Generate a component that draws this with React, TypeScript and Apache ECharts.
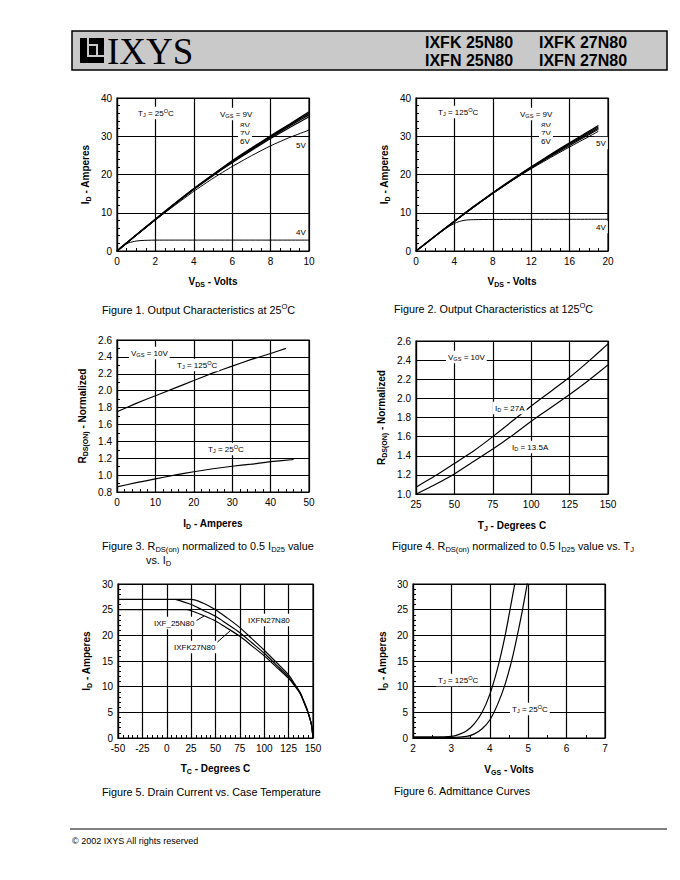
import React, { useEffect, useRef } from 'react';
import * as echarts from 'echarts';

const FONT = '"Liberation Sans", Arial, Helvetica, sans-serif';

// ---------- Figure 1: Output characteristics at 25C ----------
const f1Vds = [0, 0.5, 1, 2, 3, 4, 5, 6, 7, 8, 9, 10];
const f1Id9V = [0, 2.1, 4.2, 8.3, 12.4, 16.3, 20.0, 23.6, 26.9, 30.1, 33.2, 36.4];
const f1Id8V = [0, 2.1, 4.2, 8.3, 12.3, 16.2, 19.9, 23.4, 26.7, 29.9, 33.0, 36.0];
const f1Id7V = [0, 2.1, 4.2, 8.2, 12.3, 16.2, 19.8, 23.3, 26.5, 29.7, 32.7, 35.6];
const f1Id6V = [0, 2.1, 4.1, 8.2, 12.2, 16.1, 19.7, 23.1, 26.3, 29.4, 32.3, 35.1];
const f1Id5V = [0, 2.1, 4.1, 8.1, 11.9, 15.6, 19.0, 22.1, 24.9, 27.5, 29.7, 31.6];
const f1Vds4V = [0, 0.2, 0.4, 0.6, 0.8, 1, 1.3, 1.6, 2, 10];
const f1Id4V = [0, 0.9, 1.6, 2.1, 2.4, 2.6, 2.75, 2.8, 2.85, 2.85];

// ---------- Figure 2: Output characteristics at 125C ----------
const f2Vds = [0, 2, 4, 6, 8, 10, 12, 14, 16, 18, 19];
const f2Id9V = [0, 3.9, 7.8, 11.6, 15.2, 18.7, 22.0, 25.2, 28.3, 31.3, 32.8];
const f2Id8V = [0, 3.9, 7.8, 11.6, 15.2, 18.6, 21.9, 25.0, 28.1, 31.0, 32.5];
const f2Id7V = [0, 3.9, 7.8, 11.5, 15.1, 18.5, 21.8, 24.9, 27.9, 30.7, 32.1];
const f2Id6V = [0, 3.9, 7.8, 11.5, 15.1, 18.5, 21.7, 24.7, 27.6, 30.4, 31.8];
const f2Id5V = [0, 3.9, 7.7, 11.4, 15.0, 18.4, 21.5, 24.4, 27.2, 29.9, 31.3];
const f2Vds4V = [0, 1, 2, 3, 3.5, 4, 4.5, 5, 5.5, 6, 8, 20];
const f2Id4V = [0, 1.95, 3.9, 5.7, 6.5, 7.2, 7.7, 8.0, 8.15, 8.2, 8.25, 8.3];

// ---------- Figure 3: RDS(on) vs ID ----------
const f3Id125 = [0, 5, 10, 15, 20, 25, 30, 35, 40, 44];
const f3R125 = [1.75, 1.85, 1.94, 2.03, 2.12, 2.21, 2.29, 2.37, 2.44, 2.5];
const f3Id25 = [0, 5, 10, 15, 20, 25, 30, 35, 40, 46];
const f3R25 = [0.86, 0.91, 0.955, 1.0, 1.04, 1.075, 1.105, 1.13, 1.16, 1.185];

// ---------- Figure 4: RDS(on) vs TJ ----------
const f4Tj = [25, 37.5, 50, 62.5, 75, 87.5, 100, 112.5, 125, 137.5, 150];
const f4R27A = [1.07, 1.19, 1.32, 1.45, 1.6, 1.76, 1.92, 2.07, 2.22, 2.39, 2.57];
const f4R135A = [1.0, 1.1, 1.21, 1.34, 1.47, 1.61, 1.76, 1.9, 2.04, 2.19, 2.35];

// ---------- Figure 5: Drain current vs case temperature ----------
const f5TcFN27 = [-50, 15, 25, 37, 50, 62, 75, 87, 100, 112, 125, 131, 137, 141, 144, 146.5, 148.5, 150];
const f5IdFN27 = [27, 27, 27, 26.3, 25.0, 23.4, 21.5, 19.4, 17.1, 14.8, 12.3, 10.6, 8.8, 7.0, 5.5, 4.0, 2.5, 0];
const f5TcFK27 = [9, 25, 37, 50, 62, 75, 87, 100, 112, 125, 131, 137, 141, 144, 146.5, 148.5, 150];
const f5IdFK27 = [27, 26.0, 24.9, 23.7, 22.2, 20.5, 18.6, 16.5, 14.3, 11.9, 10.4, 8.7, 6.9, 5.5, 4.0, 2.5, 0];
const f5Tc25 = [-50, 10, 20, 25, 37, 50, 62, 75, 87, 100, 112, 125, 131, 137, 141, 144, 146.5, 148.5, 150];
const f5Id25 = [25, 25, 25, 24.8, 23.9, 22.8, 21.4, 19.8, 18.0, 16.0, 13.9, 11.6, 10.2, 8.6, 6.8, 5.4, 4.0, 2.5, 0];

// ---------- Figure 6: Admittance curves ----------
const f6Vgs125 = [2, 2.5, 3.0, 3.2, 3.4, 3.6, 3.8, 4.0, 4.2, 4.4, 4.6, 4.7];
const f6Id125 = [0.2, 0.2, 0.3, 0.7, 1.4, 2.8, 5.0, 8.5, 13.5, 20, 28, 32];
const f6Vgs25 = [2, 3.0, 3.4, 3.6, 3.8, 4.0, 4.2, 4.4, 4.6, 4.8, 4.95, 5.02];
const f6Id25 = [0.1, 0.1, 0.3, 0.8, 1.8, 3.5, 6.5, 10.5, 16, 23, 29, 32];

const zip = (xs: number[], ys: number[]) => xs.map((x, i) => [x, ys[i]]);

const nameRich = {
  s: { fontSize: 7, lineHeight: 7, verticalAlign: 'bottom', fontWeight: 'bold', fontFamily: FONT, color: '#000' },
};
const nameStyle = { color: '#000', fontSize: 10, fontWeight: 'bold', fontFamily: FONT, lineHeight: 13, rich: nameRich };

function axis(gi: number, min: number, max: number, interval: number, minor: number, name: string, gap: number, fmt?: (v: number) => string) {
  return {
    type: 'value', gridIndex: gi, min, max, interval, name, nameLocation: 'middle', nameGap: gap,
    nameTextStyle: nameStyle,
    axisLine: { show: true, onZero: false, lineStyle: { color: '#000', width: 1.2 } },
    axisTick: { show: true, inside: true, length: 4, lineStyle: { color: '#000', width: 1 } },
    minorTick: minor ? { show: true, splitNumber: minor, length: 3, lineStyle: { color: '#000', width: 1 } } : { show: false },
    splitLine: { show: true, lineStyle: { color: '#000', width: 1.2 } },
    axisLabel: { color: '#000', fontSize: 10, fontFamily: FONT, margin: 5, formatter: fmt },
  };
}

function line(gi: number, data: number[][], width = 1.1, smooth = 0.15) {
  return {
    type: 'line', xAxisIndex: gi, yAxisIndex: gi, data, symbol: 'none', showSymbol: false,
    smooth, silent: true,
    lineStyle: { color: '#000', width }, z: 3,
  };
}

function txt(x: number, y: number, text: string, size: number, extra: any = {}) {
  const sub = size * 0.7;
  return {
    type: 'text', x, y, z: 100,
    style: {
      text, fill: '#000', fontSize: size, fontFamily: FONT, lineHeight: size * 1.3,
      align: 'left', verticalAlign: 'middle',
      rich: {
        s: { fontSize: sub, lineHeight: sub, verticalAlign: 'bottom', fontFamily: FONT, fill: '#000' },
        p: { fontSize: sub, lineHeight: sub, verticalAlign: 'top', fontFamily: FONT, fill: '#000' },
      },
      ...extra,
    },
  };
}
const lbl = (x: number, y: number, text: string, size = 8) =>
  txt(x, y, text, size, { backgroundColor: '#fff', padding: [1, 2, 1, 2] });

const grid = (left: number, top: number, width: number, height: number) => ({
  left, top, width, height, show: true, borderColor: '#000', borderWidth: 1.2, backgroundColor: 'transparent',
});

const f1 = (v: number) => v.toFixed(1);
const HDR = { fill: '#000', fontSize: 16, fontWeight: 'bold', fontFamily: FONT, verticalAlign: 'middle', align: 'left' };

const option: any = {
  animation: false,
  backgroundColor: '#fff',
  textStyle: { fontFamily: FONT },
  grid: [
    grid(117, 98, 192, 153),
    grid(416, 98, 192, 153),
    grid(117, 340, 192, 152),
    grid(416, 341, 192, 153),
    grid(118, 584, 195, 154),
    grid(413, 584, 192, 154),
  ],
  xAxis: [
    axis(0, 0, 10, 2, 4, '{b|V}{s|DS}{b| - Volts}', 23.5),
    axis(1, 0, 20, 4, 4, '{b|V}{s|DS}{b| - Volts}', 23.5),
    axis(2, 0, 50, 10, 5, '{b|I}{s|D}{b| - Amperes}', 24.5),
    axis(3, 25, 150, 25, 0, '{b|T}{s|J}{b| - Degrees C}', 24.5),
    axis(4, -50, 150, 25, 5, '{b|T}{s|C}{b| - Degrees C}', 23.5),
    axis(5, 2, 7, 1, 2, '{b|V}{s|GS}{b| - Volts}', 24.5),
  ],
  yAxis: [
    axis(0, 0, 40, 10, 5, '{b|I}{s|D}{b| - Amperes}', 25.5),
    axis(1, 0, 40, 10, 5, '{b|I}{s|D}{b| - Amperes}', 25.5),
    axis(2, 0.8, 2.6, 0.2, 2, '{b|R}{s|DS(ON)}{b| - Normalized}', 28.5, f1),
    axis(3, 1.0, 2.6, 0.2, 0, '{b|R}{s|DS(ON)}{b| - Normalized}', 28.5, f1),
    axis(4, 0, 30, 5, 5, '{b|I}{s|D}{b| - Amperes}', 25.5),
    axis(5, 0, 30, 5, 5, '{b|I}{s|D}{b| - Amperes}', 24.5),
  ],
  series: [
    line(0, zip(f1Vds, f1Id9V), 1.4),
    line(0, zip(f1Vds, f1Id8V), 1.4),
    line(0, zip(f1Vds, f1Id7V), 1.4),
    line(0, zip(f1Vds, f1Id6V), 1.2),
    line(0, zip(f1Vds, f1Id5V), 1),
    line(0, zip(f1Vds4V, f1Id4V), 1, 0.3),
    line(1, zip(f2Vds, f2Id9V), 1.3),
    line(1, zip(f2Vds, f2Id8V), 1.3),
    line(1, zip(f2Vds, f2Id7V), 1.2),
    line(1, zip(f2Vds, f2Id6V), 1.1),
    line(1, zip(f2Vds, f2Id5V), 1),
    line(1, zip(f2Vds4V, f2Id4V), 1, 0.3),
    line(2, zip(f3Id125, f3R125), 1.2),
    line(2, zip(f3Id25, f3R25), 1.2),
    line(3, zip(f4Tj, f4R27A), 1.2),
    line(3, zip(f4Tj, f4R135A), 1.2),
    line(4, zip(f5TcFN27, f5IdFN27), 1.2, 0.3),
    line(4, zip(f5TcFK27, f5IdFK27), 1.2, 0.3),
    line(4, zip(f5Tc25, f5Id25), 1.2, 0.3),
    line(5, zip(f6Vgs125, f6Id125), 1.2, 0.3),
    line(5, zip(f6Vgs25, f6Id25), 1.2, 0.3),
  ],
  graphic: [
    // header
    { type: 'rect', z: 50, shape: { x: 72, y: 31, width: 595, height: 39 }, style: { fill: '#c9c9c9', stroke: '#000', lineWidth: 1.5 } },
    { type: 'rect', z: 51, shape: { x: 80, y: 38, width: 24, height: 25 }, style: { fill: '#000' } },
    { type: 'rect', z: 52, shape: { x: 87, y: 38, width: 2, height: 18 }, style: { fill: '#c9c9c9' } },
    { type: 'rect', z: 52, shape: { x: 87, y: 55, width: 17, height: 2 }, style: { fill: '#c9c9c9' } },
    { type: 'rect', z: 52, shape: { x: 89, y: 44, width: 9, height: 2 }, style: { fill: '#c9c9c9' } },
    { type: 'rect', z: 52, shape: { x: 96, y: 44, width: 2, height: 11 }, style: { fill: '#c9c9c9' } },
    { type: 'text', z: 52, x: 107, y: 51, style: { text: 'IXYS', fill: '#000', fontSize: 37, fontFamily: '"Liberation Serif", "Times New Roman", serif', verticalAlign: 'middle', align: 'left' } },
    { type: 'text', z: 52, x: 425, y: 42, style: { text: 'IXFK 25N80', ...HDR } },
    { type: 'text', z: 52, x: 539, y: 42, style: { text: 'IXFK 27N80', ...HDR } },
    { type: 'text', z: 52, x: 425, y: 60, style: { text: 'IXFN 25N80', ...HDR } },
    { type: 'text', z: 52, x: 539, y: 60, style: { text: 'IXFN 27N80', ...HDR } },

    // figure 1 annotations
    lbl(136, 113, 'T{s|J} = 25{p|O}C'),
    lbl(218, 114, 'V{s|GS} = 9V'),
    lbl(238, 125, '8V'),
    lbl(238, 133, '7V'),
    lbl(238, 141, '6V'),
    lbl(294, 145, '5V'),
    lbl(294, 232, '4V'),
    // figure 2 annotations
    lbl(436, 112, 'T{s|J} = 125{p|O}C'),
    lbl(518, 114, 'V{s|GS} = 9V'),
    lbl(539, 125, '8V'),
    lbl(539, 133, '7V'),
    lbl(539, 141, '6V'),
    lbl(594, 143, '5V'),
    lbl(594, 227, '4V'),
    // figure 3 annotations
    lbl(129, 353, 'V{s|GS} = 10V'),
    lbl(175, 365, 'T{s|J} = 125{p|O}C'),
    lbl(206, 449, 'T{s|J} = 25{p|O}C'),
    // figure 4 annotations
    lbl(446, 357, 'V{s|GS} = 10V'),
    lbl(493, 408, 'I{s|D} = 27A'),
    lbl(510, 447, 'I{s|D} = 13.5A'),
    // figure 5 annotations
    lbl(152, 623, 'IXF_25N80'),
    lbl(246, 620, 'IXFN27N80'),
    lbl(172, 647, 'IXFK27N80'),
    { type: 'line', z: 99, shape: { x1: 194, y1: 622, x2: 204, y2: 616 }, style: { stroke: '#000', lineWidth: 1 } },
    { type: 'line', z: 99, shape: { x1: 214, y1: 645, x2: 230, y2: 631 }, style: { stroke: '#000', lineWidth: 1 } },
    // figure 6 annotations
    lbl(436, 680, 'T{s|J} = 125{p|O}C'),
    lbl(510, 709, 'T{s|J} = 25{p|O}C'),

    // captions
    txt(102, 310, 'Figure 1. Output Characteristics at 25{p|O}C', 10.8),
    txt(394, 309, 'Figure 2. Output Characteristics at 125{p|O}C', 10.8),
    txt(102, 546, 'Figure 3. R{s|DS(on)} normalized to 0.5 I{s|D25} value', 10.8),
    txt(146, 560, 'vs. I{s|D}', 10.8),
    txt(392, 546, 'Figure 4. R{s|DS(on)} normalized to 0.5 I{s|D25} value vs. T{s|J}', 10.8),
    txt(102, 792, 'Figure 5. Drain Current vs. Case Temperature', 10.8),
    txt(394, 791, 'Figure 6. Admittance Curves', 10.8),

    // footer
    { type: 'line', z: 99, shape: { x1: 70, y1: 829, x2: 667, y2: 829 }, style: { stroke: '#000', lineWidth: 1 } },
    txt(72, 841, '© 2002 IXYS All rights reserved', 9),
  ],
};

export default function App() {
  const ref = useRef<HTMLDivElement>(null);
  useEffect(() => {
    const chart = echarts.init(ref.current as HTMLDivElement, null, { renderer: 'svg' });
    chart.setOption(option);
    return () => chart.dispose();
  }, []);
  return (
    <div
      ref={ref}
      style={{ position: 'absolute', left: 0, top: 0, width: 680, height: 880, background: '#fff' }}
    />
  );
}
